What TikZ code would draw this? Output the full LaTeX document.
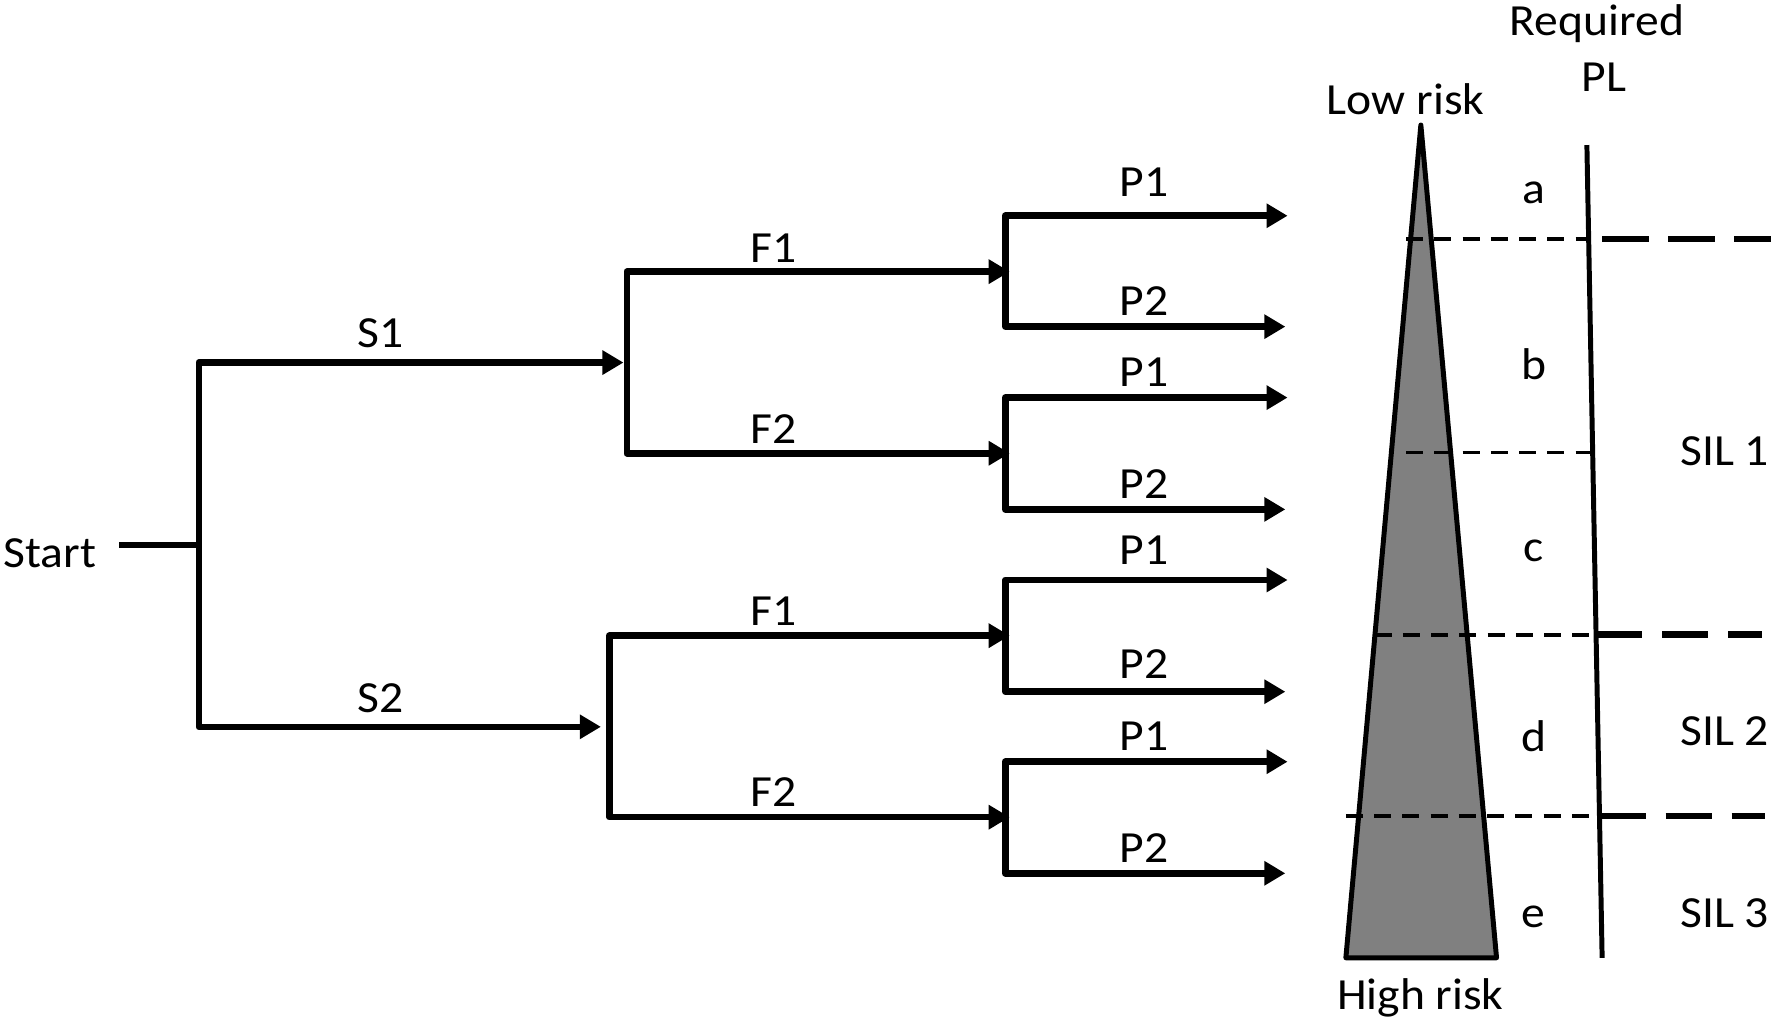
\documentclass[tikz,border=0pt]{standalone}
\usepackage{fontspec}
\setmainfont{Carlito}[FakeStretch=1.07]
\usetikzlibrary{arrows.meta}

\tikzset{
  fork/.style={draw, line width=1.65pt, line join=round,
    {Triangle[length=0.186cm,width=0.206cm]}-{Triangle[length=0.186cm,width=0.206cm]}},
  stem/.style={draw, line width=1.65pt},
  lbl/.style={inner sep=0pt, anchor=base, font=\fontsize{11.2}{13}\selectfont},
  thindash/.style={draw, line width=0.88pt, dash pattern=on 0.15cm off 0.1cm},
  thickdash/.style={draw, line width=1.7pt, dash pattern=on 0.41cm off 0.175cm},
}

\begin{document}
\begin{tikzpicture}[x=0.01cm, y=-0.01cm]
    \useasboundingbox (0,0) rectangle (1568,902);
    % severity
    \node[lbl] (start) at (44.3,502) {Start};
    \coordinate (stemin) at (105.7,482.5);
    \coordinate (root) at (176,482.5);
    \coordinate (s1) at (176,321);
    \coordinate (s2) at (176,643.5);
    \coordinate (s1end) at (552,321);
    \coordinate (s2end) at (532,643.5);
    \path[stem] (stemin) -- (root);
    \path[fork] (s1end) -- (s1) -- (s2) -- (s2end);
    \node[lbl] (s1lbl) at (336.6,308) {S1};
    \node[lbl] (s2lbl) at (336.6,630.6) {S2};

    % frequency
    \coordinate (fa) at (555,240.5);
    \coordinate (fb) at (555,401.3);
    \coordinate (fc) at (539.4,562.8);
    \coordinate (fd) at (539.4,723.5);
    \coordinate (faend) at (894,240.5);
    \coordinate (fbend) at (894,401.3);
    \coordinate (fcend) at (894,562.8);
    \coordinate (fdend) at (894,723.5);
    \path[fork] (faend) -- (fa) -- (fb) -- (fbend);
    \path[fork] (fcend) -- (fc) -- (fd) -- (fdend);
    \node[lbl] (falbl) at (685,232) {F1};
    \node[lbl] (fblbl) at (685,392.4) {F2};
    \node[lbl] (fclbl) at (685,554) {F1};
    \node[lbl] (fdlbl) at (685,714.2) {F2};

    % possibility of avoidance
    \coordinate (pa) at (890,191);
    \coordinate (pb) at (890,289.2);
    \coordinate (pc) at (890,352);
    \coordinate (pd) at (890,451);
    \coordinate (pe) at (890,513.5);
    \coordinate (pf) at (890,612.4);
    \coordinate (pg) at (890,674.4);
    \coordinate (ph) at (890,773.2);
    \coordinate (paend) at (1140,191);
    \coordinate (pbend) at (1138,289.2);
    \coordinate (pcend) at (1140,352);
    \coordinate (pdend) at (1138,451);
    \coordinate (peend) at (1140,513.5);
    \coordinate (pfend) at (1138,612.4);
    \coordinate (pgend) at (1140,674.4);
    \coordinate (phend) at (1138,773.2);
    \path[fork] (paend) -- (pa) -- (pb) -- (pbend);
    \path[fork] (pcend) -- (pc) -- (pd) -- (pdend);
    \path[fork] (peend) -- (pe) -- (pf) -- (pfend);
    \path[fork] (pgend) -- (pg) -- (ph) -- (phend);
    \node[lbl] (palbl) at (1013,174) {P1};
    \node[lbl] (pblbl) at (1013,279.5) {P2};
    \node[lbl] (pclbl) at (1013,342.3) {P1};
    \node[lbl] (pdlbl) at (1013,441) {P2};
    \node[lbl] (pelbl) at (1013,500) {P1};
    \node[lbl] (pflbl) at (1013,601) {P2};
    \node[lbl] (pglbl) at (1013,664.6) {P1};
    \node[lbl] (phlbl) at (1013,764) {P2};

    % risk wedge
    \coordinate (apex) at (1258,110.7);
    \coordinate (baseL) at (1191.6,848);
    \coordinate (baseR) at (1325,848);
    \path[draw, fill=gray, line width=1.25pt, line join=round] (apex) -- (baseL) -- (baseR) -- cycle;
    \node[lbl] (lowrisk) at (1244.5,101.8) {Low risk};
    \node[lbl] (highrisk) at (1257.6,894) {High risk};

    % required PL scale
    \coordinate (pltop) at (1405,128.4);
    \coordinate (plbot) at (1418.5,848);
    \path[draw, line width=1.25pt] (pltop) -- (plbot);
    \node[lbl] (req) at (1413.8,31) {Required};
    \node[lbl] (pl) at (1420,81.2) {PL};

    \coordinate (cutaL) at (1245,211.6);
    \coordinate (cutaM) at (1406.6,211.6);
    \coordinate (cutaR) at (1568,211.6);
    \coordinate (cutbL) at (1245,400.5);
    \coordinate (cutbM) at (1410.1,400.5);
    \coordinate (cutcL) at (1217,562);
    \coordinate (cutcM) at (1413.1,562);
    \coordinate (cutcR) at (1560,562);
    \coordinate (cutdL) at (1191.6,722.5);
    \coordinate (cutdM) at (1416.1,722.5);
    \coordinate (cutdR) at (1563,722.5);
    \path[thindash] (cutaL) -- (cutaM);
    \path[thickdash, dash phase=0.465cm] (cutaM) -- (cutaR);
    \path[thindash] (cutbL) -- (cutbM);
    \path[thindash] (cutcL) -- (cutcM);
    \path[thickdash] (cutcM) -- (cutcR);
    \path[thindash] (cutdL) -- (cutdM);
    \path[thickdash] (cutdM) -- (cutdR);

    \node[lbl] (pla) at (1358,180.6) {a};
    \node[lbl] (plb) at (1358,336) {b};
    \node[lbl] (plc) at (1358,497) {c};
    \node[lbl] (pld) at (1358,665.5) {d};
    \node[lbl] (ple) at (1358,821) {e};

    \node[lbl, anchor=base west] (sila) at (1487,411.7) {SIL 1};
    \node[lbl, anchor=base west] (silb) at (1487,659.6) {SIL 2};
    \node[lbl, anchor=base west] (silc) at (1487,821) {SIL 3};
\end{tikzpicture}
\end{document}
